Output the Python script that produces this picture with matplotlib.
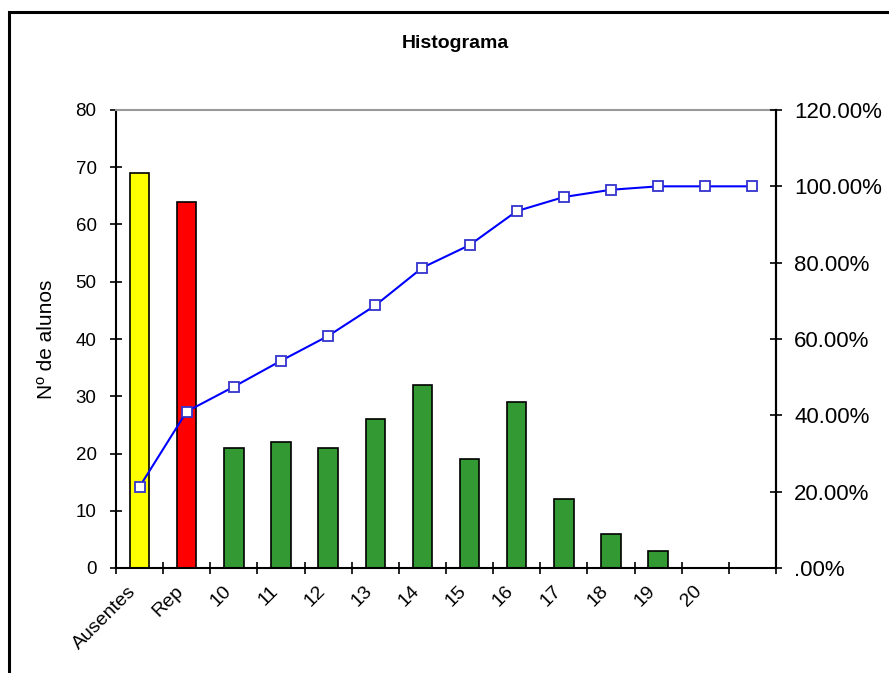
import matplotlib
matplotlib.use("Agg")
import matplotlib.pyplot as plt
from matplotlib.patches import Rectangle
from matplotlib.ticker import FixedLocator, FuncFormatter
import numpy as np

plt.rcParams['font.family'] = ['Liberation Sans', 'DejaVu Sans']

categories = ['Ausentes', 'Rep', '10', '11', '12', '13', '14', '15', '16', '17', '18', '19', '20', '']
counts = [69, 64, 21, 22, 21, 26, 32, 19, 29, 12, 6, 3, 0, 0]
bar_colors = ['#FFFF00', '#FF0000'] + ['#339933'] * 12
cum_pct = [21.3, 41.0, 47.5, 54.3, 60.8, 68.8, 78.7, 84.6, 93.5, 97.2, 99.1, 100.0, 100.0, 100.0]
left_ticks = [0, 10, 20, 30, 40, 50, 60, 70, 80]
right_ticks = [0, 20, 40, 60, 80, 100, 120]

W, H = 889, 673
fig = plt.figure(figsize=(W / 100, H / 100), dpi=100)
ax = fig.add_axes([116 / W, 1 - 568 / H, (776 - 116) / W, (568 - 110) / H])

x = np.arange(len(categories))
ax.bar(x, counts, width=0.41, color=bar_colors, edgecolor='black', linewidth=1.2, zorder=2)
ax.set_xlim(-0.5, len(categories) - 0.5)
ax.set_ylim(0, 80)
ax.set_yticks(left_ticks)
ax.tick_params(axis='y', direction='inout', length=8, width=1.2, labelsize=13.5, pad=10)

# x ticks: boundaries as tick marks, labels at centers
ax.xaxis.set_major_locator(FixedLocator(np.arange(len(categories) + 1) - 0.5))
ax.xaxis.set_major_formatter(FuncFormatter(lambda v, p: ''))
ax.xaxis.set_minor_locator(FixedLocator(x - 0.12))
ax.set_xticklabels(categories, minor=True, rotation=45, ha='right', va='center',
                   rotation_mode='anchor', fontsize=14)
ax.tick_params(axis='x', which='major', direction='inout', length=9, width=1.2)
ax.tick_params(axis='x', which='minor', length=0, pad=15)

ax.set_ylabel('Nº de alunos', fontsize=15, labelpad=14)

for s in ['left', 'bottom', 'right']:
    ax.spines[s].set_linewidth(1.5)
    ax.spines[s].set_color('black')
ax.spines['top'].set_color('#999999')
ax.spines['top'].set_linewidth(1.5)

ax2 = ax.twinx()
ax2.plot(x, cum_pct, color='#0000FF', linewidth=1.5, marker='s', markersize=7,
         markerfacecolor='white', markeredgecolor='#3333CC', markeredgewidth=1.3, zorder=3)
ax2.set_ylim(0, 120)
ax2.set_yticks(right_ticks)
ax2.yaxis.set_major_formatter(FuncFormatter(lambda v, p: ('%.2f%%' % v).lstrip('0') if v == 0 else '%.2f%%' % v))
ax2.tick_params(axis='y', direction='inout', length=8, width=1.2, labelsize=16, pad=9)
for s in ['left', 'bottom', 'top']:
    ax2.spines[s].set_visible(False)
ax2.spines['right'].set_linewidth(1.5)

fig.text((400 + 511) / 2 / W, 1 - 44 / H, 'Histograma', fontsize=14, fontweight='bold',
         ha='center', va='center')

fig.add_artist(Rectangle((9 / W, -0.1), 1.2, 1.1 - 12 / H, transform=fig.transFigure,
                         fill=False, edgecolor='black', linewidth=2.2))

fig.savefig('out.png', dpi=100)
